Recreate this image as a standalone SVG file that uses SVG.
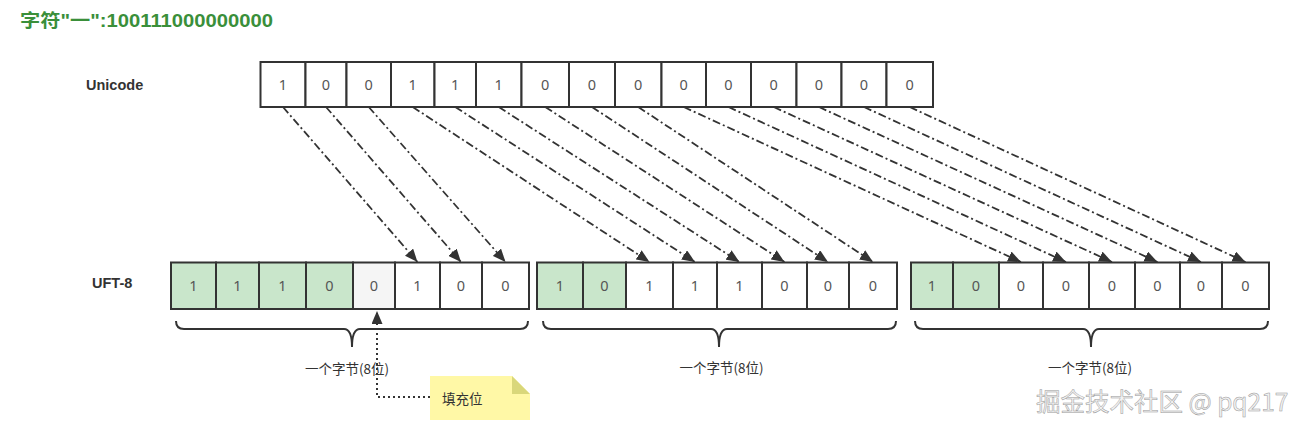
<svg xmlns="http://www.w3.org/2000/svg" width="1310" height="432" viewBox="0 0 1310 432">
<style>
.cell{stroke:#333;stroke-width:2}
.w{fill:#fff}.g{fill:#c9e6cb}.p{fill:#f5f5f5}
.d{font-family:"Noto Sans","Liberation Sans",sans-serif;font-size:14.5px;fill:#555;text-anchor:middle}
.lbl{font-family:"Liberation Sans","Noto Sans CJK SC",sans-serif;font-weight:bold;font-size:14.5px;fill:#333}
.cn{font-family:"Noto Sans CJK SC",sans-serif;font-size:13.5px;fill:#333}
.conn{fill:none;stroke:#333;stroke-width:1.8;stroke-dasharray:8 3 2 3}
.brace{fill:none;stroke:#333;stroke-width:2}
</style>
<defs>
<marker id="ah" markerUnits="userSpaceOnUse" markerWidth="14" markerHeight="11" refX="13" refY="5.5" orient="auto">
<path d="M0,0 L13,5.5 L0,11 Z" fill="#333"/>
</marker>
</defs>
<rect width="1310" height="432" fill="#fff"/>
<g id="title">
<text x="20" y="27" textLength="253" lengthAdjust="spacingAndGlyphs" style="font-family:'Liberation Sans','Noto Sans CJK SC',sans-serif;font-weight:bold;font-size:18px;fill:#3a8f3a">字符"一":100111000000000</text>
</g>
<g id="label-unicode"><text class="lbl" x="86" y="90">Unicode</text></g>
<g id="label-utf8"><text class="lbl" x="92" y="288">UFT-8</text></g>
<g id="unicode">
<g id="u0"><rect class="cell w" x="260.5" y="62" width="45" height="45"/><text class="d" x="283" y="90">1</text></g>
<g id="u1"><rect class="cell w" x="305.5" y="62" width="41" height="45"/><text class="d" x="326" y="90">0</text></g>
<g id="u2"><rect class="cell w" x="346.5" y="62" width="44.5" height="45"/><text class="d" x="368.75" y="90">0</text></g>
<g id="u3"><rect class="cell w" x="391" y="62" width="43.5" height="45"/><text class="d" x="412.75" y="90">1</text></g>
<g id="u4"><rect class="cell w" x="434.5" y="62" width="41.5" height="45"/><text class="d" x="455.25" y="90">1</text></g>
<g id="u5"><rect class="cell w" x="476" y="62" width="45.5" height="45"/><text class="d" x="498.75" y="90">1</text></g>
<g id="u6"><rect class="cell w" x="521.5" y="62" width="47.5" height="45"/><text class="d" x="545.25" y="90">0</text></g>
<g id="u7"><rect class="cell w" x="569" y="62" width="46" height="45"/><text class="d" x="592" y="90">0</text></g>
<g id="u8"><rect class="cell w" x="615" y="62" width="46.5" height="45"/><text class="d" x="638.25" y="90">0</text></g>
<g id="u9"><rect class="cell w" x="661.5" y="62" width="44.5" height="45"/><text class="d" x="683.75" y="90">0</text></g>
<g id="u10"><rect class="cell w" x="706" y="62" width="45" height="45"/><text class="d" x="728.5" y="90">0</text></g>
<g id="u11"><rect class="cell w" x="751" y="62" width="45.5" height="45"/><text class="d" x="773.75" y="90">0</text></g>
<g id="u12"><rect class="cell w" x="796.5" y="62" width="45" height="45"/><text class="d" x="819" y="90">0</text></g>
<g id="u13"><rect class="cell w" x="841.5" y="62" width="45" height="45"/><text class="d" x="864" y="90">0</text></g>
<g id="u14"><rect class="cell w" x="886.5" y="62" width="46.5" height="45"/><text class="d" x="909.75" y="90">0</text></g>
</g>
<g id="byte1">
<g id="b1c0"><rect class="cell g" x="171" y="262.5" width="45" height="46.5"/><text class="d" x="193.5" y="291">1</text></g>
<g id="b1c1"><rect class="cell g" x="216" y="262.5" width="43" height="46.5"/><text class="d" x="237.5" y="291">1</text></g>
<g id="b1c2"><rect class="cell g" x="259" y="262.5" width="47" height="46.5"/><text class="d" x="282.5" y="291">1</text></g>
<g id="b1c3"><rect class="cell g" x="306" y="262.5" width="47" height="46.5"/><text class="d" x="329.5" y="291">0</text></g>
<g id="b1c4"><rect class="cell p" x="353" y="262.5" width="42" height="46.5"/><text class="d" x="374" y="291">0</text></g>
<g id="b1c5"><rect class="cell w" x="395" y="262.5" width="45" height="46.5"/><text class="d" x="417.5" y="291">1</text></g>
<g id="b1c6"><rect class="cell w" x="440" y="262.5" width="42" height="46.5"/><text class="d" x="461" y="291">0</text></g>
<g id="b1c7"><rect class="cell w" x="482" y="262.5" width="47" height="46.5"/><text class="d" x="505.5" y="291">0</text></g>
</g>
<g id="byte2">
<g id="b2c0"><rect class="cell g" x="537" y="262.5" width="46" height="46.5"/><text class="d" x="560" y="291">1</text></g>
<g id="b2c1"><rect class="cell g" x="583" y="262.5" width="43" height="46.5"/><text class="d" x="604.5" y="291">0</text></g>
<g id="b2c2"><rect class="cell w" x="626" y="262.5" width="47" height="46.5"/><text class="d" x="649.5" y="291">1</text></g>
<g id="b2c3"><rect class="cell w" x="673" y="262.5" width="44" height="46.5"/><text class="d" x="695" y="291">1</text></g>
<g id="b2c4"><rect class="cell w" x="717" y="262.5" width="45" height="46.5"/><text class="d" x="739.5" y="291">1</text></g>
<g id="b2c5"><rect class="cell w" x="762" y="262.5" width="45" height="46.5"/><text class="d" x="784.5" y="291">0</text></g>
<g id="b2c6"><rect class="cell w" x="807" y="262.5" width="42" height="46.5"/><text class="d" x="828" y="291">0</text></g>
<g id="b2c7"><rect class="cell w" x="849" y="262.5" width="48" height="46.5"/><text class="d" x="873" y="291">0</text></g>
</g>
<g id="byte3">
<g id="b3c0"><rect class="cell g" x="911" y="262.5" width="42" height="46.5"/><text class="d" x="932" y="291">1</text></g>
<g id="b3c1"><rect class="cell g" x="953" y="262.5" width="46" height="46.5"/><text class="d" x="976" y="291">0</text></g>
<g id="b3c2"><rect class="cell w" x="999" y="262.5" width="44" height="46.5"/><text class="d" x="1021" y="291">0</text></g>
<g id="b3c3"><rect class="cell w" x="1043" y="262.5" width="46" height="46.5"/><text class="d" x="1066" y="291">0</text></g>
<g id="b3c4"><rect class="cell w" x="1089" y="262.5" width="46" height="46.5"/><text class="d" x="1112" y="291">0</text></g>
<g id="b3c5"><rect class="cell w" x="1135" y="262.5" width="45" height="46.5"/><text class="d" x="1157.5" y="291">0</text></g>
<g id="b3c6"><rect class="cell w" x="1180" y="262.5" width="42" height="46.5"/><text class="d" x="1201" y="291">0</text></g>
<g id="b3c7"><rect class="cell w" x="1222" y="262.5" width="47" height="46.5"/><text class="d" x="1245.5" y="291">0</text></g>
</g>
<g id="braces">
<path class="brace" d="M176,321 Q176,329 184,329 L344,329 Q352,329 352,347 Q352,329 360,329 L520,329 Q528,329 528,321"/>
<path class="brace" d="M543,321 Q543,329 551,329 L711,329 Q719,329 719,347 Q719,329 727,329 L888,329 Q896,329 896,321"/>
<path class="brace" d="M915,321 Q915,329 923,329 L1083,329 Q1091,329 1091,347 Q1091,329 1099,329 L1260,329 Q1268,329 1268,321"/>
</g>
<g id="byte-labels">
<text class="cn" x="347" y="374" text-anchor="middle">一个字节(8位)</text>
<text class="cn" x="721.5" y="373" text-anchor="middle">一个字节(8位)</text>
<text class="cn" x="1090" y="373" text-anchor="middle">一个字节(8位)</text>
</g>
<g id="note">
<polygon points="430,376 512,376 530,394 530,420 430,420" fill="#fff8a6"/>
<polygon points="512,376 530,394 512,394" fill="#d9d77a"/>
<text class="cn" x="442" y="404">填充位</text>
</g>
<g id="connectors">
<line class="conn" x1="283" y1="107" x2="417.5" y2="262" marker-end="url(#ah)"/>
<line class="conn" x1="326" y1="107" x2="461" y2="262" marker-end="url(#ah)"/>
<line class="conn" x1="368.75" y1="107" x2="505.5" y2="262" marker-end="url(#ah)"/>
<line class="conn" x1="412.75" y1="107" x2="649.5" y2="262" marker-end="url(#ah)"/>
<line class="conn" x1="455.25" y1="107" x2="695" y2="262" marker-end="url(#ah)"/>
<line class="conn" x1="498.75" y1="107" x2="739.5" y2="262" marker-end="url(#ah)"/>
<line class="conn" x1="545.25" y1="107" x2="784.5" y2="262" marker-end="url(#ah)"/>
<line class="conn" x1="592" y1="107" x2="828" y2="262" marker-end="url(#ah)"/>
<line class="conn" x1="638.25" y1="107" x2="873" y2="262" marker-end="url(#ah)"/>
<line class="conn" x1="683.75" y1="107" x2="1021" y2="262" marker-end="url(#ah)"/>
<line class="conn" x1="728.5" y1="107" x2="1066" y2="262" marker-end="url(#ah)"/>
<line class="conn" x1="773.75" y1="107" x2="1112" y2="262" marker-end="url(#ah)"/>
<line class="conn" x1="819" y1="107" x2="1157.5" y2="262" marker-end="url(#ah)"/>
<line class="conn" x1="864" y1="107" x2="1201" y2="262" marker-end="url(#ah)"/>
<line class="conn" x1="909.75" y1="107" x2="1245.5" y2="262" marker-end="url(#ah)"/>
<path d="M430,397 L377,397 L377,311" fill="none" stroke="#333" stroke-width="2" stroke-dasharray="2 3" marker-end="url(#ah)"/>
</g>
<g id="watermark">
<text x="1036" y="411" style="font-family:'Noto Sans CJK SC',sans-serif;font-size:24.5px;fill:#f2f2f2;stroke:#9a9a9a;stroke-width:0.5">掘金技术社区 @ pq217</text>
</g>
</svg>
